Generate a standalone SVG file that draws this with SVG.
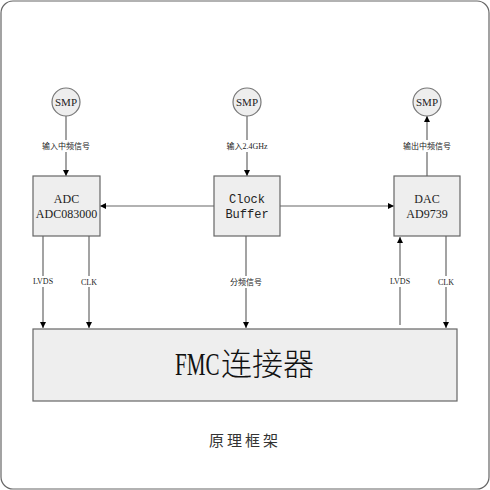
<svg xmlns="http://www.w3.org/2000/svg" width="490" height="490" viewBox="0 0 490 490">
<defs>
<marker id="ah" viewBox="0 0 10 10" refX="10" refY="5" markerWidth="6" markerHeight="10" markerUnits="userSpaceOnUse" orient="auto">
<path d="M0,0 L10,5 L0,10 Z" fill="#000"/>
</marker>
<style>
.frame{fill:#fff;stroke:#666;stroke-width:1.2}
.smp{fill:#eee;stroke:#777;stroke-width:1.2}
.box{fill:#eee;stroke:#666;stroke-width:1.2}
.wire{fill:none;stroke:#666;stroke-width:1.2;marker-end:url(#ah)}
.serif{font-family:"Liberation Serif","DejaVu Serif",serif;fill:#222;text-anchor:middle}
.mono{font-family:"Liberation Mono","DejaVu Sans Mono",monospace;fill:#222;text-anchor:middle}
.lbl{font-family:"Liberation Serif","Noto Sans CJK SC",serif;font-size:8px;fill:#222;text-anchor:middle}
.bg{fill:#fff}
</style>
</defs>
<rect class="frame" x="1" y="1" width="488" height="488" rx="12"/>

<g id="connectors">
<line class="wire" x1="66" y1="116" x2="66" y2="176"/>
<line class="wire" x1="247" y1="116" x2="247" y2="176"/>
<line class="wire" x1="427" y1="176" x2="427" y2="116"/>
<line class="wire" x1="214" y1="206" x2="100" y2="206"/>
<line class="wire" x1="280" y1="206" x2="394" y2="206"/>
<line class="wire" x1="43" y1="236" x2="43" y2="328"/>
<line class="wire" x1="89" y1="236" x2="89" y2="328"/>
<line class="wire" x1="246" y1="236" x2="246" y2="328"/>
<line class="wire" x1="400" y1="325" x2="400" y2="237"/>
<line class="wire" x1="446" y1="236" x2="446" y2="328"/>
<rect class="bg" x="40" y="140" width="52" height="12"/>
<text class="lbl" x="66" y="149">输入中频信号</text>
<rect class="bg" x="225" y="140" width="44" height="12"/>
<text class="lbl" x="247" y="149">输入2.4GHz</text>
<rect class="bg" x="401" y="140" width="52" height="12"/>
<text class="lbl" x="427" y="149">输出中频信号</text>
<rect class="bg" x="30" y="276" width="26" height="11"/>
<text class="lbl" x="43" y="284" font-size="7px">LVDS</text>
<rect class="bg" x="79" y="276" width="20" height="11"/>
<text class="lbl" x="89" y="285" font-size="7px">CLK</text>
<rect class="bg" x="227" y="276" width="38" height="12"/>
<text class="lbl" x="246" y="285">分频信号</text>
<rect class="bg" x="387" y="276" width="26" height="11"/>
<text class="lbl" x="400" y="284" font-size="7px">LVDS</text>
<rect class="bg" x="436" y="276" width="20" height="11"/>
<text class="lbl" x="446" y="285" font-size="7px">CLK</text>
</g>

<g id="smp1"><circle class="smp" cx="66" cy="102" r="14"/><text class="serif" x="66" y="106" font-size="11">SMP</text></g>
<g id="smp2"><circle class="smp" cx="247" cy="102" r="14"/><text class="serif" x="247" y="106" font-size="11">SMP</text></g>
<g id="smp3"><circle class="smp" cx="427" cy="102" r="14"/><text class="serif" x="427" y="106" font-size="11">SMP</text></g>

<g id="adc"><rect class="box" x="33" y="176" width="67" height="60"/>
<text class="serif" x="66.5" y="203" font-size="12">ADC</text>
<text class="serif" x="66.5" y="218" font-size="12">ADC083000</text></g>

<g id="clock"><rect class="box" x="214" y="176" width="66" height="60"/>
<text class="mono" x="247" y="203" font-size="12">Clock</text>
<text class="mono" x="247" y="218" font-size="12">Buffer</text></g>

<g id="dac"><rect class="box" x="394" y="176" width="66" height="60"/>
<text class="serif" x="427" y="203" font-size="12">DAC</text>
<text class="serif" x="427" y="218" font-size="12">AD9739</text></g>

<g id="fmc"><rect class="box" x="33" y="329" width="424" height="72"/>
<text transform="translate(175,375) scale(0.68,1)" x="0" y="0" font-size="31" fill="#111" font-family="Liberation Serif,serif">FMC</text>
<text x="221" y="375" font-size="31" fill="#111" font-family="Noto Sans CJK SC,sans-serif" font-weight="300">连接器</text></g>

<text x="245" y="446" font-size="15" fill="#333" text-anchor="middle" letter-spacing="3" font-family="Noto Sans CJK SC,sans-serif">原理框架</text>
</svg>
